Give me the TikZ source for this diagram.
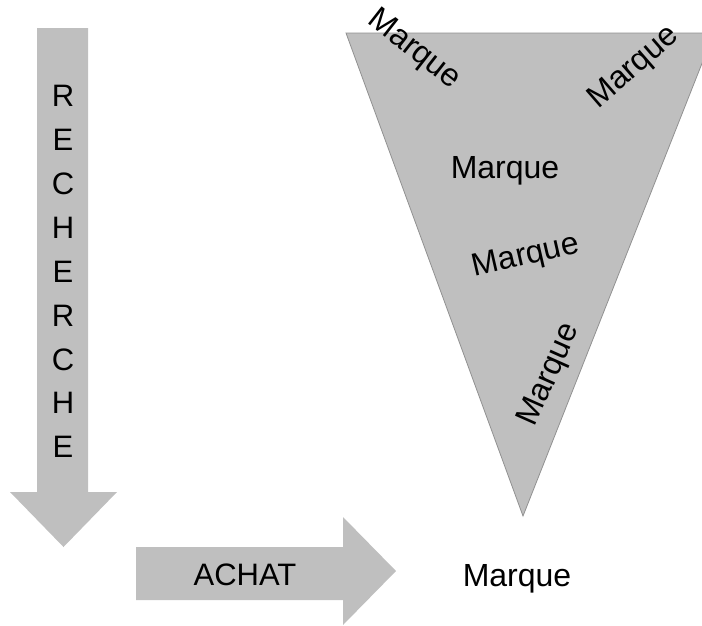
\documentclass[tikz,border=0pt]{standalone}
\usepackage{fontspec}
\setmainfont{Liberation Sans}
\definecolor{shade}{RGB}{191,191,191}
\definecolor{rim}{RGB}{145,145,145}
\begin{document}
\begin{tikzpicture}[x=1pt,y=-1pt,
  lbl/.style={inner sep=0pt,font=\fontsize{32}{38}\selectfont},
  letter/.style={inner sep=0pt,font=\fontsize{31}{36}\selectfont},
  block/.style={fill=shade,draw=none}]
\useasboundingbox (0,0) rectangle (702,625);
\clip (0,0) rectangle (702,625);

% downward arrow: RECHERCHE
\fill[block] (37,28) -- (88,28) -- (88,492) -- (117,492) -- (63.5,547)
  -- (10,492) -- (37,492) -- cycle;
\foreach \c [count=\i] in {R,E,C,H,E,R,C,H,E}
  \node[letter] (r\i) at (63,{96+43.9*(\i-1)}) {\c};

% rightward arrow: ACHAT
\fill[block] (136,547) -- (343,547) -- (343,517) -- (396,571)
  -- (343,625) -- (343,600) -- (136,600) -- cycle;
\node[letter,anchor=base] (achat) at (245,585) {ACHAT};

% funnel of brands
\coordinate (tl) at (346,33);
\coordinate (tr) at (714,33);
\coordinate (tip) at (523,516);
\draw[fill=shade,draw=rim,line width=0.8pt] (tl) -- (tr) -- (tip) -- cycle;

\node[lbl,rotate=-38] (m1) at (414,50) {Marque};
\node[lbl,rotate=41] (m2) at (634,68) {Marque};
\node[lbl,anchor=base] (m3) at (505,178) {Marque};
\node[lbl,rotate=13] (m4) at (526,257) {Marque};
\node[lbl,rotate=66] (m5) at (550,375) {Marque};

% the brand that is bought
\node[lbl,anchor=base] (m6) at (517,586) {Marque};
\end{tikzpicture}
\end{document}
